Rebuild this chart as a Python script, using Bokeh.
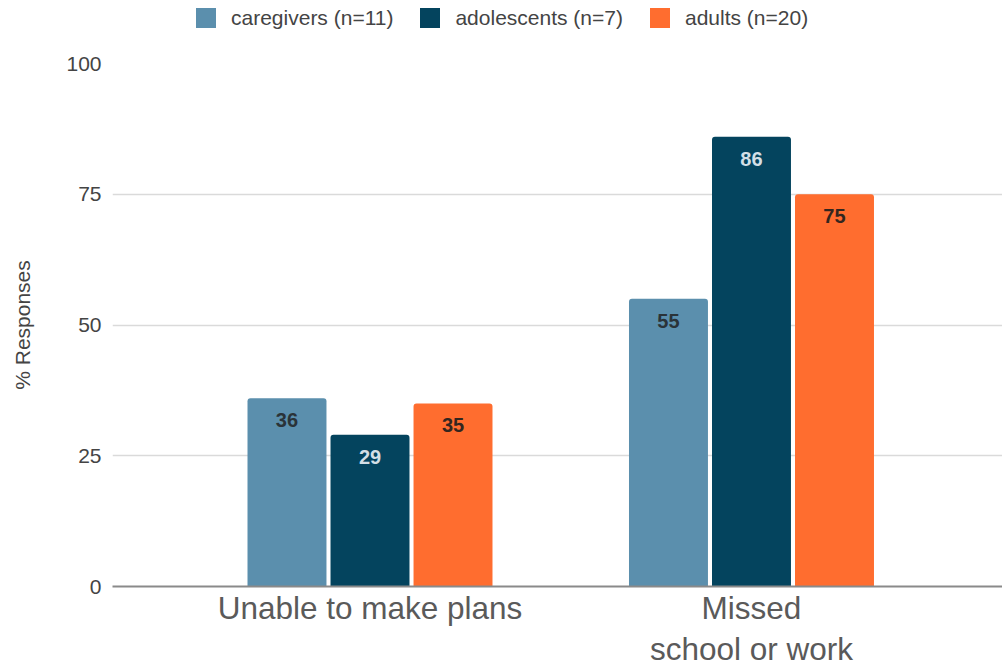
from bokeh.plotting import figure
from bokeh.layouts import column
from bokeh.models import (ColumnDataSource, Range1d, FixedTicker, Legend, LegendItem,
                          LabelSet)
from bokeh.core.properties import value
from bokeh.embed import file_html
from bokeh.resources import INLINE

# Survey data: share of responses per impact, by respondent group
categories = ["Unable to make plans", "Missed\nschool or work"]
series_names = ["caregivers (n=11)", "adolescents (n=7)", "adults (n=20)"]
caregivers = [36, 55]
adolescents = [29, 86]
adults = [35, 75]
y_ticks = [0, 25, 50, 75, 100]

colors = ["#5b8fad", "#04445e", "#ff6d2f"]
label_colors = ["#2a3338", "#d3dfe6", "#33261f"]
FONT = "Liberation Sans"
W = 1002
LEGEND_H = 51

# ---- main bar chart -------------------------------------------------------
p = figure(width=W, height=669 - LEGEND_H, output_backend="svg", toolbar_location=None,
           x_range=Range1d(-0.675, 1.658), y_range=Range1d(0, 100),
           min_border_left=112, min_border_right=0, min_border_top=12,
           min_border_bottom=83)
p.outline_line_color = None
p.background_fill_color = "white"
p.border_fill_color = "white"

bar_w = 0.207
step = 0.2176
offsets = [-step, 0.0, step]

sources = []
for vals, col, lcol, off in zip([caregivers, adolescents, adults], colors,
                                label_colors, offsets):
    src = ColumnDataSource(dict(
        x=[i + off for i in range(len(categories))],
        top=vals,
        txt=[str(v) for v in vals],
    ))
    sources.append(src)
    p.vbar(x="x", top="top", width=bar_w, bottom=0, source=src,
           fill_color=col, line_color=None, border_radius=(3, 3, 0, 0))
    p.add_layout(LabelSet(x="x", y="top", text="txt", source=src, y_offset=-22,
                          text_align="center", text_baseline="middle",
                          text_font=value(FONT), text_font_size=value("20px"),
                          text_font_style="bold", text_color=lcol))

# y axis: labels only, no line or ticks
p.yaxis.ticker = FixedTicker(ticks=y_ticks)
p.yaxis.axis_line_color = None
p.yaxis.major_tick_line_color = None
p.yaxis.minor_tick_line_color = None
p.yaxis.major_tick_out = 0
p.yaxis.major_label_standoff = 11
p.yaxis.major_label_text_font = FONT
p.yaxis.major_label_text_font_size = "21px"
p.yaxis.major_label_text_color = "#444444"
p.yaxis.axis_label = "% Responses"
p.yaxis.axis_label_text_font = FONT
p.yaxis.axis_label_text_font_size = "21px"
p.yaxis.axis_label_text_font_style = "normal"
p.yaxis.axis_label_text_color = "#444444"
p.yaxis.axis_label_standoff = 29

# x axis: category names under each group
p.xaxis.ticker = FixedTicker(ticks=list(range(len(categories))))
p.xaxis.major_label_overrides = {i: c for i, c in enumerate(categories)}
p.xaxis.axis_line_color = "#8a8a8a"
p.xaxis.axis_line_width = 2
p.xaxis.major_tick_line_color = None
p.xaxis.minor_tick_line_color = None
p.xaxis.major_tick_out = 0
p.xaxis.major_label_standoff = 3
p.xaxis.major_label_text_font = FONT
p.xaxis.major_label_text_font_size = "31.5px"
p.xaxis.major_label_text_line_height = 1.15
p.xaxis.major_label_text_color = "#5a5a5a"

p.xgrid.grid_line_color = None
p.ygrid.ticker = FixedTicker(ticks=y_ticks)
p.ygrid.grid_line_color = "#dadada"
p.ygrid.grid_line_width = 1.5

# ---- legend strip above the chart -----------------------------------------
lf = figure(width=W, height=LEGEND_H, output_backend="svg", toolbar_location=None,
            x_axis_type=None, y_axis_type=None, min_border=0,
            x_range=Range1d(0, 1), y_range=Range1d(0, 1))
lf.outline_line_color = None
lf.xgrid.grid_line_color = None
lf.ygrid.grid_line_color = None

items = []
for name, col, src in zip(series_names, colors, sources):
    # hidden copies of the series: they only supply the legend swatches
    swatch = lf.vbar(x="x", top="top", width=bar_w, source=src,
                     fill_color=col, line_color=None, visible=False)
    items.append(LegendItem(label=name, renderers=[swatch]))

legend = Legend(items=items, orientation="horizontal", location=(81, 21),
                glyph_width=25, glyph_height=25, label_standoff=13, spacing=24,
                padding=0, margin=0, border_line_color=None,
                background_fill_alpha=0, inactive_fill_alpha=0,
                label_text_font=FONT, label_text_font_size="21px",
                label_text_color="#444444", label_height=25)
lf.add_layout(legend, "center")

open("out.html", "w").write(file_html(column(lf, p, spacing=0), INLINE))
